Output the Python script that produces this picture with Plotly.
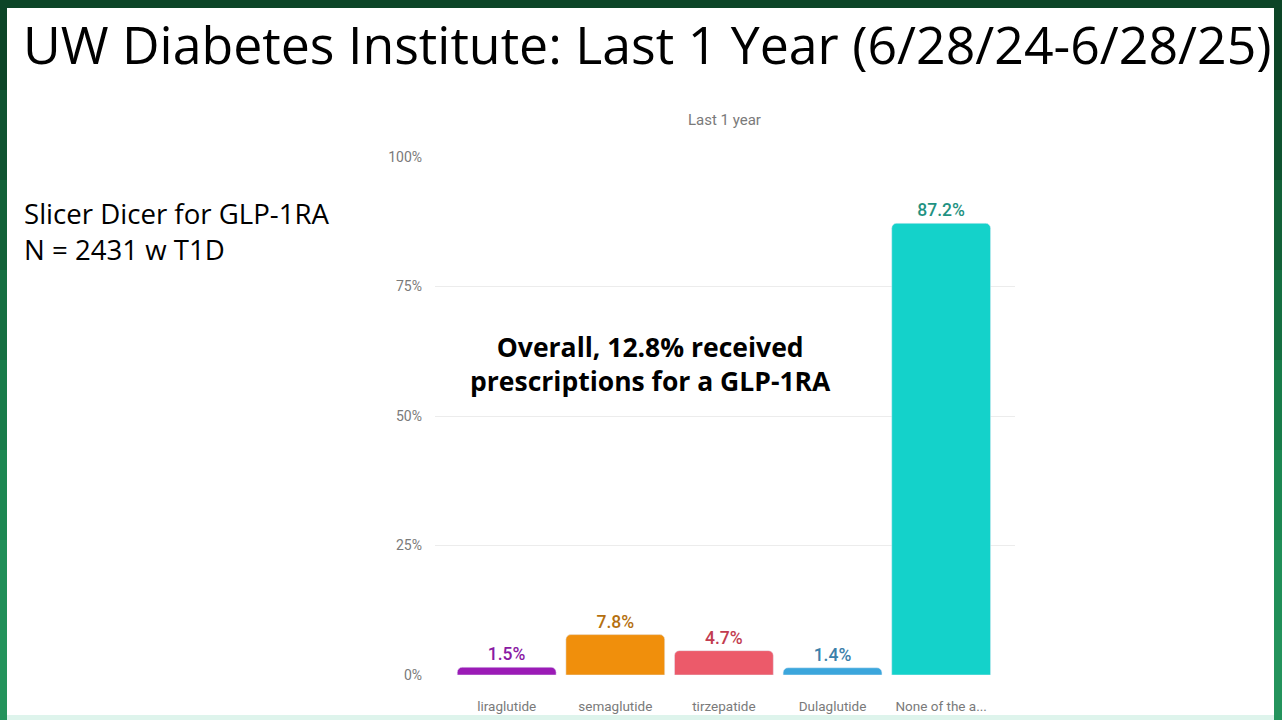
import plotly.graph_objects as go

# data
drugs = ['liraglutide', 'semaglutide', 'tirzepatide', 'Dulaglutide', 'None of the a...']
pct = [1.5, 7.8, 4.7, 1.4, 87.2]
bar_colors = ['#9b1bb6', '#f08f0c', '#ec5a6a', '#3ba6dc', '#14d2ca']
label_colors = ['#8a1aa3', '#b5700f', '#c23c50', '#3b80aa', '#1f9282']
y_ticks = [0, 25, 50, 75, 100]

W, H = 1282, 720
L, R, T, B = 435, 267, 157, 45


def px_to_paper(x, y):
    pw = W - L - R
    ph = H - T - B
    return (x - L) / pw, (H - B - y) / ph


fig = go.Figure()
fig.add_trace(go.Bar(
    x=drugs, y=pct,
    marker=dict(color=bar_colors, cornerradius=5),
    text=[f'{v}%' for v in pct],
    textposition='outside',
    textfont=dict(family='Roboto', size=17.5, weight=500, color=label_colors),
    cliponaxis=False,
))


# slide frame: white card on a green gradient
def rect(xa, ya, xb, yb, color):
    p0 = px_to_paper(xa, yb)
    p1 = px_to_paper(xb, ya)
    fig.add_shape(type='rect', xref='paper', yref='paper', x0=p0[0], x1=p1[0], y0=p0[1], y1=p1[1],
                  fillcolor=color, line_width=0, layer='below')


greens = ['#0c4527', '#0f5330', '#126138', '#156f41', '#187c4a', '#1c8752', '#208f58', '#24935c']
band = H / len(greens)
for i, g in enumerate(greens):
    rect(0, i * band, W, (i + 1) * band + 1, g)
rect(7, 8, 1274, 715, 'white')
rect(7, 715, 1274, 720, '#def4ec')

ann = []


def note(text, x, y, size, color, family='Open Sans', xanchor='left', align='left'):
    px, py = px_to_paper(x, y)
    ann.append(dict(text=text, x=px, y=py, xref='paper', yref='paper',
                    xanchor=xanchor, yanchor='middle', align=align, showarrow=False,
                    font=dict(family=family, size=size, color=color)))


note('UW Diabetes Institute: Last 1 Year (6/28/24-6/28/25)', 21, 44, 51.8, 'black')
note('Slicer Dicer for GLP-1RA<br>N = 2431 w T1D', 22, 231, 27.6, 'black')
note('Last 1 year', 724, 120, 15, '#7a7a7a', family='Roboto', xanchor='center')
note('<b>Overall, 12.8% received<br>prescriptions for a GLP-1RA</b>', 650, 364, 26.5, 'black',
     xanchor='center', align='center')

fig.update_layout(
    width=W, height=H,
    margin=dict(l=L, r=R, t=T, b=B),
    paper_bgcolor='#1b8a52',
    plot_bgcolor='rgba(0,0,0,0)',
    bargap=0.09,
    showlegend=False,
    annotations=ann,
    font=dict(family='Roboto'),
)
fig.update_xaxes(range=[-0.66, 4.68], showgrid=False, showline=False, zeroline=False,
                 ticks='', ticklabelstandoff=21, automargin=False,
                 tickfont=dict(family='Roboto', size=13.5, color='#7a7a7a'))
fig.update_yaxes(range=[0, 100], tickvals=y_ticks, ticktext=[f'{v}%' for v in y_ticks],
                 showgrid=True, gridcolor='#ececec', zeroline=False, showline=False,
                 ticks='', ticklabelstandoff=12, automargin=False,
                 tickfont=dict(family='Roboto', size=14, color='#7a7a7a'))

fig.write_html('out.html', config={'displayModeBar': False},
               post_script="document.body.style.margin='0';")
